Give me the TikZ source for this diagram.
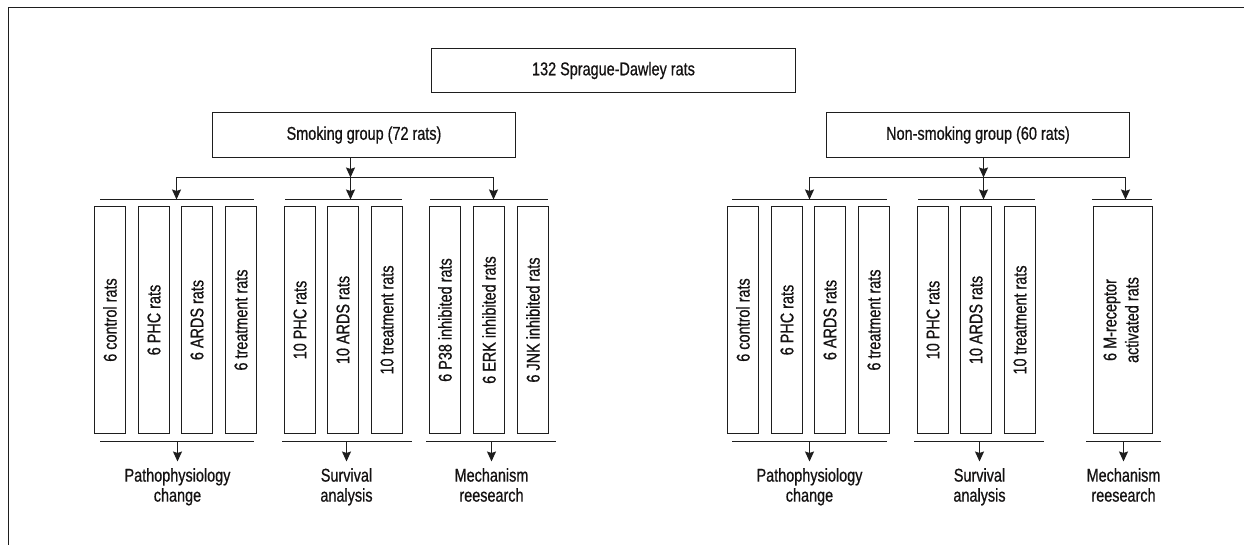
\documentclass[tikz,border=0pt]{standalone}
\usepackage{fontspec}
\setmainfont{Liberation Sans}[FakeStretch=0.78,FakeBold=0.7]
\usetikzlibrary{arrows.meta}
\definecolor{ink}{RGB}{20,18,18}
\definecolor{ln}{RGB}{30,30,30}
\begin{document}
\begin{tikzpicture}[x=1pt,y=-1pt,
  font=\fontsize{18.5}{22}\selectfont, text=ink,
  box/.style={draw=ln, line width=1.35pt, inner sep=0pt, minimum width=#1, minimum height=45pt},
  ratbox/.style={draw=ln, line width=1.35pt, inner sep=0pt, minimum width=31pt, minimum height=227pt},
  bar/.style={draw=ln, line width=1.35pt},
  arr/.style={draw=ln, line width=1.35pt, -{Stealth[length=10pt,width=9pt,inset=1.5pt]}},
  lbl/.style={align=center, anchor=north, inner sep=0pt, font=\fontsize{18.5}{20}\selectfont}]
\useasboundingbox (0,0) rectangle (1244,545);
\draw[ln, line width=1.4pt] (8.5,545) -- (8.5,7.5) -- (1244,7.5);

% top boxes
\node[box=364pt, minimum height=44pt] (top) at (613.5,70.5) {132 Sprague-Dawley rats};
\node[box=303pt] (smk) at (364,135) {Smoking group (72 rats)};
\node[box=303pt] (non) at (978,135) {Non-smoking group (60 rats)};

% rat boxes
\foreach \n/\x/\t in {a1/110/6 control rats, a2/154/6 PHC rats, a3/197/6 ARDS rats, a4/241/6 treatment rats,
  b1/300/10 PHC rats, b2/343/10 ARDS rats, b3/387/10 treatment rats,
  c1/445/6 P38 inhibited rats, c2/489/6 ERK inhibited rats, c3/533/6 JNK inhibited rats,
  d1/743/6 control rats, d2/787/6 PHC rats, d3/830/6 ARDS rats, d4/874/6 treatment rats,
  e1/933/10 PHC rats, e2/976/10 ARDS rats, e3/1020/10 treatment rats}
  \node[ratbox] (\n) at (\x,320) {\rotatebox{90}{\t}};
\node[ratbox, minimum width=59pt] (f1) at (1123,320)
  {\rotatebox{90}{\begin{tabular}{@{}c@{}}6 M-receptor\\activated rats\end{tabular}}};

% bars (top)
\coordinate (sA1) at (100,199.5); \coordinate (sA2) at (254,199.5);
\coordinate (sB1) at (285,199.5); \coordinate (sB2) at (402,199.5);
\coordinate (sC1) at (430,199.5); \coordinate (sC2) at (548,199.5);
\coordinate (nA1) at (732,199.5); \coordinate (nA2) at (887,199.5);
\coordinate (nB1) at (918,199.5); \coordinate (nB2) at (1035,199.5);
\coordinate (nC1) at (1092,199.5); \coordinate (nC2) at (1152,199.5);
\foreach \p in {sA,sB,sC,nA,nB,nC} \draw[bar] (\p1) -- (\p2);
% bars (bottom)
\coordinate (bA1) at (100,441.5); \coordinate (bA2) at (254,441.5);
\coordinate (bB1) at (282,441.5); \coordinate (bB2) at (412,441.5);
\coordinate (bC1) at (426,441.5); \coordinate (bC2) at (556,441.5);
\coordinate (mA1) at (732,441.5); \coordinate (mA2) at (887,441.5);
\coordinate (mB1) at (914,441.5); \coordinate (mB2) at (1044,441.5);
\coordinate (mC1) at (1086,441.5); \coordinate (mC2) at (1161,441.5);
\foreach \p in {bA,bB,bC,mA,mB,mC} \draw[bar] (\p1) -- (\p2);

% distribution arrows (smoking)
\coordinate (sJ) at (350.5,177.5); \coordinate (sL) at (176.5,177.5); \coordinate (sR) at (493.5,177.5);
\draw[arr] (smk.south -| sJ) -- (sJ);
\draw[bar] (sL) -- (sR);
\draw[arr] (sL) -- (sL |- sA1);
\draw[arr] (sJ) -- (sJ |- sB1);
\draw[arr] (sR) -- (sR |- sC1);
% distribution arrows (non-smoking)
\coordinate (nJ) at (983.5,177.5); \coordinate (nL) at (809.5,177.5); \coordinate (nR) at (1125.5,177.5);
\draw[arr] (non.south -| nJ) -- (nJ);
\draw[bar] (nL) -- (nR);
\draw[arr] (nL) -- (nL |- nA1);
\draw[arr] (nJ) -- (nJ |- nB1);
\draw[arr] (nR) -- (nR |- nC1);

% outcome labels
\node[lbl] (oA) at (177.5,468) {Pathophysiology\\change};
\node[lbl] (oB) at (346.5,468) {Survival\\analysis};
\node[lbl] (oC) at (491.5,468) {Mechanism\\reesearch};
\node[lbl] (pA) at (809.5,468) {Pathophysiology\\change};
\node[lbl] (pB) at (979.5,468) {Survival\\analysis};
\node[lbl] (pC) at (1123.5,468) {Mechanism\\reesearch};
\foreach \o/\b in {oA/bA1,oB/bB1,oC/bC1,pA/mA1,pB/mB1,pC/mC1}
  \draw[arr] (\o.north |- \b) -- ++(0,20);
\end{tikzpicture}
\end{document}
